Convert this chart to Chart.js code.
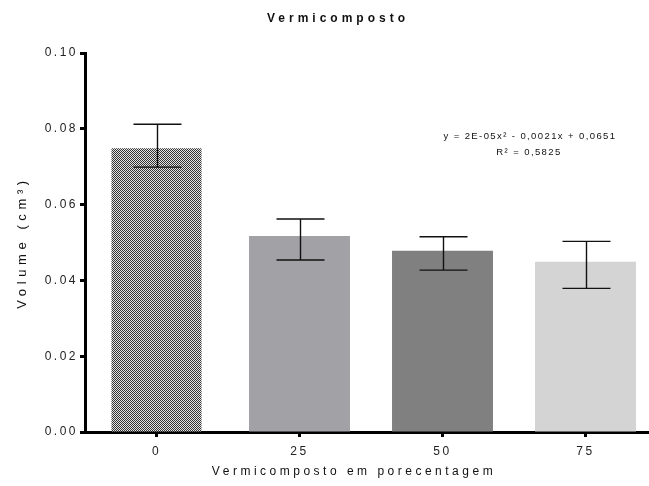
<!DOCTYPE html>
<html>
<head>
<meta charset="utf-8">
<script src="https://cdn.jsdelivr.net/npm/chart.js@4.4.1/dist/chart.umd.min.js"></script>
<style>
  html, body { margin: 0; padding: 0; background: #fff; overflow: hidden; width: 649px; height: 486px; }
  canvas { display: block; }
</style>
</head>
<body>
<canvas id="chart" width="662" height="486"></canvas>
<script>
// Vermicompost dose (%) and measured volume (cm³)
const categories = ['0', '25', '50', '75'];
const volumeMeans = [0.0749, 0.0517, 0.0478, 0.0449];
const errorUpper = [0.0812, 0.0562, 0.0515, 0.0503];
const errorLower = [0.0699, 0.0454, 0.0427, 0.0379];
const yTickValues = [0, 0.02, 0.04, 0.06, 0.08, 0.10];
const equationLines = ['y = 2E-05x² - 0,0021x + 0,0651', 'R² = 0,5825'];

const FONT = '"Liberation Sans", Arial, sans-serif';

// fine checker fill for the control bar
function checkerPattern() {
  const c = document.createElement('canvas');
  c.width = 2; c.height = 2;
  const g = c.getContext('2d');
  g.fillStyle = '#e4e4e4'; g.fillRect(0, 0, 2, 2);
  g.fillStyle = '#333333'; g.fillRect(0, 0, 1, 1); g.fillRect(1, 1, 1, 1);
  return g.createPattern(c, 'repeat');
}
const ctx = document.getElementById('chart').getContext('2d');
const fills = [checkerPattern(), '#a2a1a5', '#808080', '#d4d4d4'];

// error bars (upper / lower limits) drawn on top of bars
const errorBars = {
  id: 'errorBars',
  afterDatasetsDraw(chart) {
    const { ctx, scales: { x, y } } = chart;
    ctx.save();
    ctx.strokeStyle = '#111';
    ctx.lineWidth = 1.4;
    const cap = 24;
    categories.forEach((_, i) => {
      const px = Math.round(x.getPixelForValue(i)) + 0.5;
      const top = y.getPixelForValue(errorUpper[i]);
      const bot = y.getPixelForValue(errorLower[i]);
      ctx.beginPath();
      ctx.moveTo(px, top); ctx.lineTo(px, bot);
      ctx.moveTo(px - cap, top); ctx.lineTo(px + cap, top);
      ctx.moveTo(px - cap, bot); ctx.lineTo(px + cap, bot);
      ctx.stroke();
    });
    ctx.restore();
  }
};

// spaced-out titles and regression annotation
const labels = {
  id: 'labels',
  beforeDraw(chart) { chart.ctx.letterSpacing = '2.5px'; },
  afterDraw(chart) {
    const { ctx, scales: { y } } = chart;
    ctx.save();
    ctx.fillStyle = '#111';
    ctx.textAlign = 'center';
    ctx.textBaseline = 'middle';

    ctx.font = 'bold 12px ' + FONT;
    ctx.letterSpacing = '4px';
    ctx.fillText('Vermicomposto', 338, 19);

    ctx.font = '12px ' + FONT;
    ctx.letterSpacing = '3.5px';
    ctx.fillText('Vermicomposto em porecentagem', 354, 472);

    ctx.font = '13px ' + FONT;
    ctx.letterSpacing = '4.6px';
    ctx.save();
    ctx.translate(22, (y.top + y.bottom) / 2);
    ctx.rotate(-Math.PI / 2);
    ctx.fillText('Volume (cm³)', 0, 0);
    ctx.restore();

    ctx.font = '9.5px ' + FONT;
    ctx.letterSpacing = '1.4px';
    ctx.fillText(equationLines[0], 530, 136);
    ctx.fillText(equationLines[1], 529, 152);
    ctx.restore();
  }
};

new Chart(ctx, {
  type: 'bar',
  data: {
    labels: categories,
    datasets: [
      {
        data: volumeMeans.map((v, i) => i === 0 ? v : null),
        backgroundColor: fills,
        barPercentage: 0.63,
        categoryPercentage: 1,
        grouped: false
      },
      {
        data: volumeMeans.map((v, i) => i === 0 ? null : v),
        backgroundColor: fills,
        barPercentage: 0.706,
        categoryPercentage: 1,
        grouped: false
      }
    ]
  },
  options: {
    responsive: false,
    animation: false,
    layout: { padding: { top: 53, right: 5, left: 0, bottom: 0 } },
    plugins: { legend: { display: false }, tooltip: { enabled: false }, title: { display: false } },
    scales: {
      x: {
        offset: true,
        grid: { display: true, drawOnChartArea: false, offset: false, tickLength: 5, tickWidth: 3, tickColor: '#000' },
        border: { display: true, width: 3, color: '#000' },
        ticks: { color: '#222', font: { family: FONT, size: 12 }, padding: 7 },
        afterFit(s) { s.height = 54; }
      },
      y: {
        min: 0,
        max: 0.1,
        afterBuildTicks(s) { s.ticks = yTickValues.map(v => ({ value: v })); },
        grid: { display: true, drawOnChartArea: false, tickLength: 5, tickWidth: 3, tickColor: '#000' },
        border: { display: true, width: 3, color: '#000' },
        ticks: {
          color: '#222',
          font: { family: FONT, size: 12 },
          padding: 2,
          callback: v => v.toFixed(2)
        },
        afterFit(s) { s.width = 85; }
      }
    }
  },
  plugins: [errorBars, labels]
});
</script>
</body>
</html>
